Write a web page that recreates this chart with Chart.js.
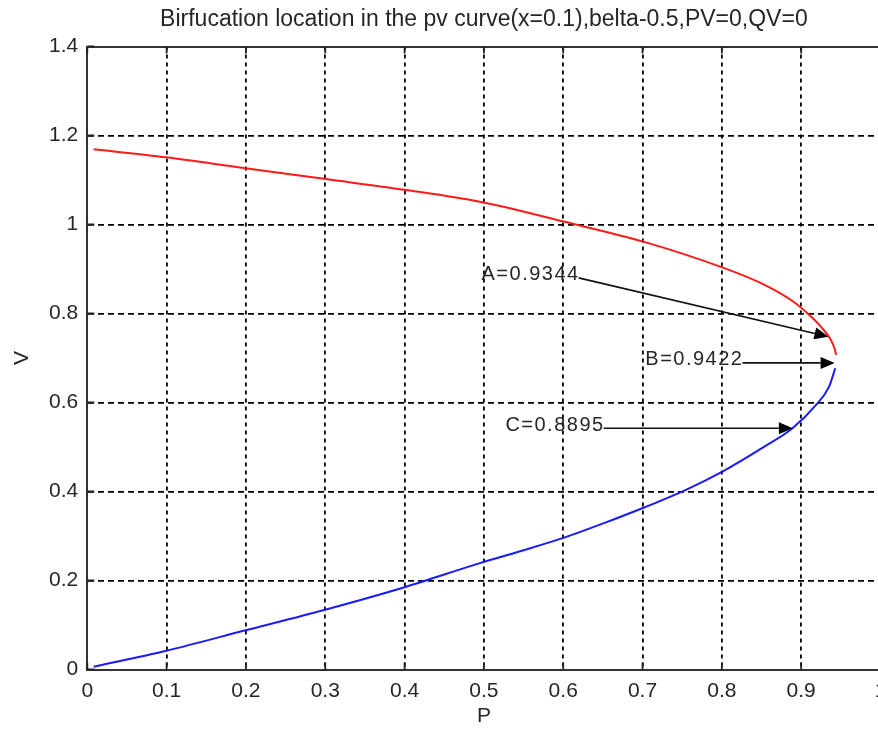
<!DOCTYPE html>
<html>
<head>
<meta charset="utf-8">
<title>PV curve</title>
<script src="https://cdn.jsdelivr.net/npm/chart.js@4/dist/chart.umd.min.js"></script>
<style>
  html, body { margin: 0; padding: 0; background: #fff; overflow: hidden; }
  #wrap { width: 900px; height: 731px; }
</style>
</head>
<body>
<div id="wrap"><canvas id="pvChart"></canvas></div>
<script>
// upper branch of the PV curve (P, V)
const upperP = [0.008, 0.0996, 0.197, 0.301, 0.400, 0.495, 0.602, 0.702, 0.803, 0.852, 0.889, 0.910, 0.927, 0.937, 0.942, 0.944];
const upperV = [1.169, 1.151, 1.127, 1.102, 1.078, 1.051, 1.006, 0.961, 0.902, 0.866, 0.828, 0.797, 0.766, 0.742, 0.722, 0.707];

// lower branch
const lowerP = [0.008, 0.0996, 0.197, 0.301, 0.400, 0.495, 0.548, 0.602, 0.653, 0.702, 0.754, 0.803, 0.852, 0.889, 0.919, 0.935, 0.943];
const lowerV = [0.006, 0.042, 0.087, 0.135, 0.185, 0.239, 0.267, 0.297, 0.330, 0.364, 0.403, 0.447, 0.499, 0.542, 0.595, 0.635, 0.677];

// ticks
const xTickValues = [0, 0.1, 0.2, 0.3, 0.4, 0.5, 0.6, 0.7, 0.8, 0.9, 1];
const yTickValues = [0, 0.2, 0.4, 0.6, 0.8, 1, 1.2, 1.4];

// text arrows: label, tail (where the text ends) and tip
const arrowLabels = ['A=0.9344', 'B=0.9422', 'C=0.8895'];
const arrowTipP = [0.9344, 0.9422, 0.8895];
const arrowTipV = [0.748, 0.689, 0.542];
const arrowTailP = [0.6195, 0.826, 0.651];
const arrowTailV = [0.880, 0.689, 0.542];

const FONT = "'Liberation Sans', Arial, sans-serif";
const TEXT = '#262626';

Chart.defaults.font.family = FONT;
Chart.defaults.color = TEXT;

const toPoints = (xs, ys) => xs.map((p, i) => ({ x: p, y: ys[i] }));
const fmt = v => String(Math.round(v * 10) / 10);

// small inward tick marks on the box edges + the text arrows
const annotations = {
  id: 'annotations',
  afterDatasetsDraw(chart) {
    const { ctx, chartArea: a, scales: { x, y } } = chart;
    ctx.save();
    ctx.strokeStyle = '#222';
    ctx.lineWidth = 1.8;
    ctx.beginPath();
    xTickValues.forEach(v => {
      const px = x.getPixelForValue(v);
      ctx.moveTo(px, a.bottom); ctx.lineTo(px, a.bottom - 7);
      ctx.moveTo(px, a.top); ctx.lineTo(px, a.top + 7);
    });
    yTickValues.forEach(v => {
      const py = y.getPixelForValue(v);
      ctx.moveTo(a.left, py); ctx.lineTo(a.left + 7, py);
    });
    ctx.stroke();

    arrowLabels.forEach((label, i) => {
      const x0 = x.getPixelForValue(arrowTailP[i]);
      const y0 = y.getPixelForValue(arrowTailV[i]);
      const x1 = x.getPixelForValue(arrowTipP[i]);
      const y1 = y.getPixelForValue(arrowTipV[i]);
      const ang = Math.atan2(y1 - y0, x1 - x0);
      const len = 14, half = 6;
      const bx = x1 - len * Math.cos(ang), by = y1 - len * Math.sin(ang);

      ctx.strokeStyle = '#111';
      ctx.lineWidth = 1.6;
      ctx.beginPath();
      ctx.moveTo(x0, y0);
      ctx.lineTo(bx, by);
      ctx.stroke();

      ctx.fillStyle = '#000';
      ctx.beginPath();
      ctx.moveTo(x1, y1);
      ctx.lineTo(bx - half * Math.sin(ang), by + half * Math.cos(ang));
      ctx.lineTo(bx + half * Math.sin(ang), by - half * Math.cos(ang));
      ctx.closePath();
      ctx.fill();

      ctx.font = '20px ' + FONT;
      ctx.letterSpacing = '1.5px';
      ctx.fillStyle = TEXT;
      ctx.textAlign = 'right';
      ctx.textBaseline = 'middle';
      ctx.fillText(label, x0 + 1, y0 - 3);
    });
    ctx.restore();
  }
};

new Chart(document.getElementById('pvChart'), {
  type: 'scatter',
  data: {
    datasets: [
      {
        data: toPoints(upperP, upperV),
        showLine: true,
        borderColor: '#ff1a1a',
        borderWidth: 2,
        pointRadius: 0,
        cubicInterpolationMode: 'monotone'
      },
      {
        data: toPoints(lowerP, lowerV),
        showLine: true,
        borderColor: '#1a1aff',
        borderWidth: 2,
        pointRadius: 0,
        cubicInterpolationMode: 'monotone'
      }
    ]
  },
  options: {
    responsive: true,
    maintainAspectRatio: false,
    animation: false,
    layout: { padding: { top: 0, right: 19.5, bottom: 0, left: 0 } },
    plugins: {
      legend: { display: false },
      tooltip: { enabled: false },
      title: {
        display: true,
        text: 'Birfucation location in the pv curve(x=0.1),belta-0.5,PV=0,QV=0',
        color: TEXT,
        fullSize: false,
        font: { size: 23, weight: 'normal' },
        padding: { top: 6, bottom: 12.9 }
      }
    },
    scales: {
      x: {
        type: 'linear',
        min: 0,
        max: 1,
        afterBuildTicks: s => { s.ticks = xTickValues.map(v => ({ value: v })); },
        afterFit: s => { s.height = 61.5; },
        ticks: { font: { size: 21 }, padding: 9.4, color: TEXT, callback: fmt },
        grid: {
          color: c => (c.tick && c.tick.value === 1 ? 'rgba(0,0,0,0)' : '#000'),
          lineWidth: 1.8,
          drawTicks: false
        },
        border: { display: true, color: '#333', width: 2, dash: [4, 4] },
        title: { display: true, text: 'P', font: { size: 21 }, padding: { top: 0, bottom: 2.4 }, color: TEXT }
      },
      xTop: {
        type: 'linear',
        position: 'top',
        min: 0,
        max: 1,
        afterFit: s => { s.height = 0; },
        ticks: { display: false },
        grid: { display: false, drawTicks: false },
        border: { display: true, color: '#333', width: 2 }
      },
      y: {
        type: 'linear',
        min: 0,
        max: 1.4,
        afterBuildTicks: s => { s.ticks = yTickValues.map(v => ({ value: v })); },
        afterFit: s => { s.width = 87.3; },
        ticks: { font: { size: 21 }, padding: 9, color: TEXT, callback: fmt },
        grid: { color: '#000', lineWidth: 1.8, drawTicks: false },
        border: { display: true, color: '#333', width: 2, dash: [6, 4] },
        title: { display: true, text: 'V', font: { size: 21 }, padding: { top: 10, bottom: 0 }, color: TEXT }
      }
    }
  },
  plugins: [annotations]
});
</script>
</body>
</html>
